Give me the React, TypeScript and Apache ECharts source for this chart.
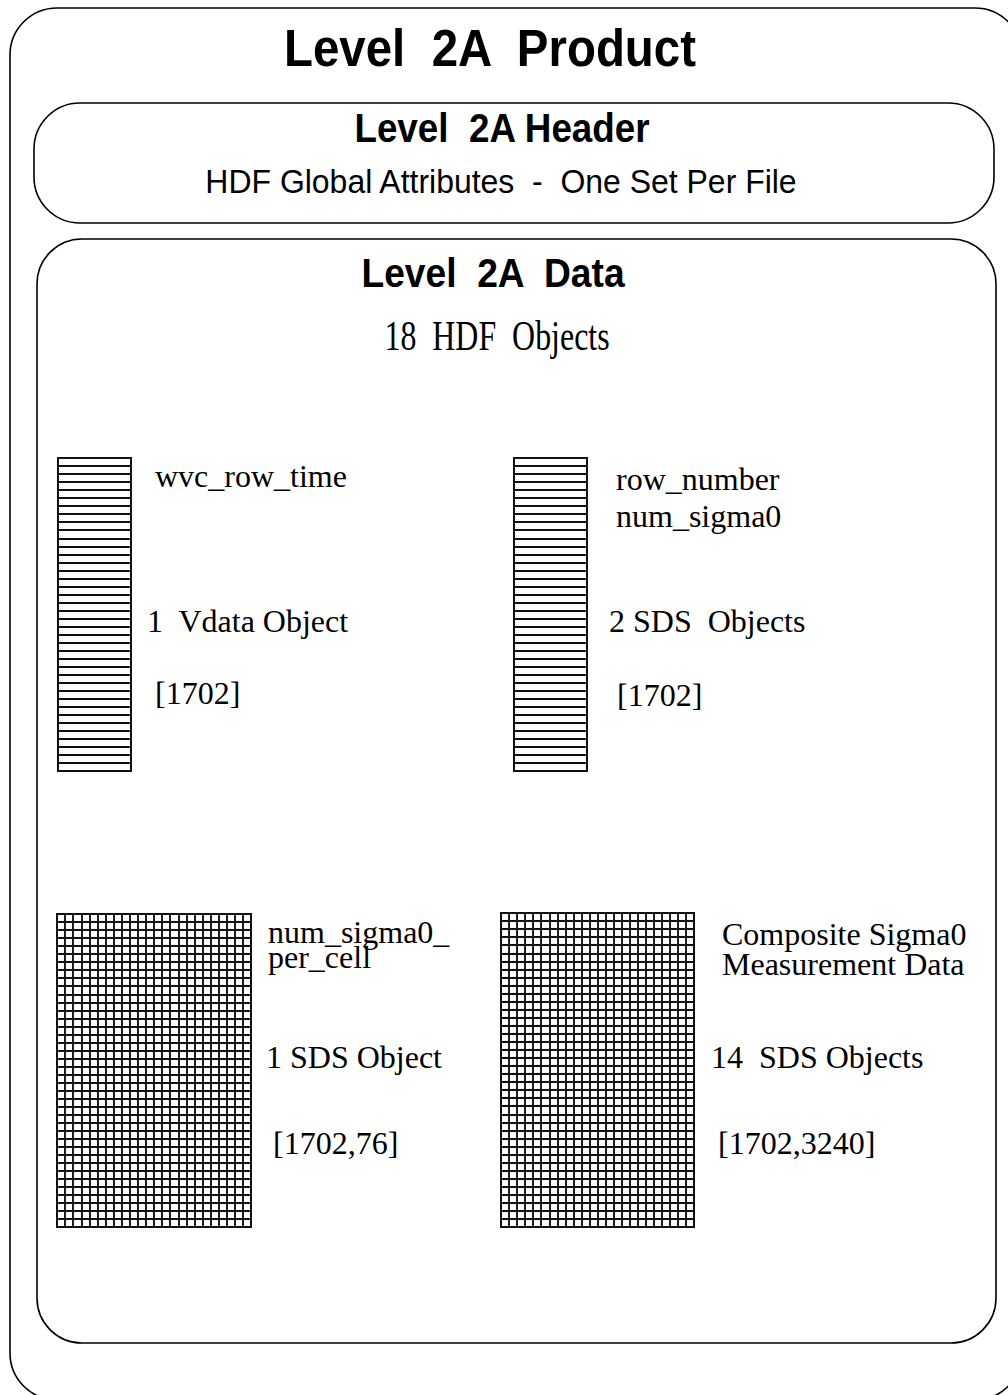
import React, { useEffect, useRef } from "react";
import * as echarts from "echarts";

// ---- content ----
const headings = ["Level  2A  Product", "Level  2A Header", "HDF Global Attributes  -  One Set Per File", "Level  2A  Data", "18  HDF  Objects"];
const blockNames = ["wvc_row_time", "row_number\nnum_sigma0", "num_sigma0_\nper_cell", "Composite Sigma0\nMeasurement Data"];
const blockCounts = ["1  Vdata Object", "2 SDS  Objects", "1 SDS Object", "14  SDS Objects"];
const blockDims = ["[1702]", "[1702]", "[1702,76]", "[1702,3240]"];
const blockRows = [39, 39, 39, 39];
const blockCols = [1, 1, 24, 24];

// ---- layout ----
const boxRects = [
  { left: 58, top: 458, width: 73, height: 313 },
  { left: 514, top: 458, width: 73, height: 313 },
  { left: 57, top: 914, width: 194, height: 313 },
  { left: 501, top: 913, width: 193, height: 314 },
];
const nameLayout = [
  { x: 155, y: 476, lh: 37 },
  { x: 616, y: 497, lh: 37 },
  { x: 268, y: 944, lh: 25 },
  { x: 722, y: 949, lh: 30 },
];
const countLayout = [
  { x: 147, y: 621 },
  { x: 609, y: 621 },
  { x: 266, y: 1057 },
  { x: 711, y: 1057 },
];
const dimLayout = [
  { x: 155, y: 693 },
  { x: 617, y: 695 },
  { x: 273, y: 1143 },
  { x: 718, y: 1143 },
];
const SANS = "'Liberation Sans', Arial, sans-serif";
const SERIF = "'Liberation Serif', 'Times New Roman', serif";
const headingLayout = [
  { x: 490, y: 48, size: 51, weight: "bold", family: SANS, sx: 0.93 },
  { x: 502, y: 128, size: 40, weight: "bold", family: SANS, sx: 0.92 },
  { x: 501, y: 181, size: 34, weight: "normal", family: SANS, sx: 0.94 },
  { x: 493, y: 273, size: 40, weight: "bold", family: SANS, sx: 0.93 },
  { x: 497, y: 336, size: 42, weight: "normal", family: SERIF, sx: 0.76 },
];

export default function App() {
  const ref = useRef<HTMLDivElement>(null);
  useEffect(() => {
    if (!ref.current) return;
    const chart = echarts.init(ref.current, undefined, { renderer: "svg" });

    const grids = boxRects.map((r) => ({
      left: r.left,
      top: r.top,
      width: r.width,
      height: r.height,
      show: true,
      borderColor: "#111",
      borderWidth: 2,
      backgroundColor: "transparent",
      containLabel: false,
    }));
    const lineStyle = { color: "#111", width: 1.9 };
    const xAxes = blockCols.map((c, i) => ({
      type: "value",
      gridIndex: i,
      min: 0,
      max: c,
      interval: 1,
      axisLine: { show: false },
      axisTick: { show: false },
      axisLabel: { show: false },
      splitLine: { show: c > 1, lineStyle },
    }));
    const yAxes = blockRows.map((r, i) => ({
      type: "value",
      gridIndex: i,
      min: 0,
      max: r,
      interval: 1,
      axisLine: { show: false },
      axisTick: { show: false },
      axisLabel: { show: false },
      splitLine: { show: true, lineStyle },
    }));
    const series = blockRows.map((_, i) => ({
      type: "scatter",
      xAxisIndex: i,
      yAxisIndex: i,
      data: [],
      silent: true,
    }));

    const graphic: any[] = [
      { type: "rect", shape: { x: 10, y: 8, width: 1012, height: 1392, r: 47 }, style: { fill: "none", stroke: "#000", lineWidth: 1.6 } },
      { type: "rect", shape: { x: 34, y: 103, width: 960, height: 120, r: 46 }, style: { fill: "none", stroke: "#000", lineWidth: 1.6 } },
      { type: "rect", shape: { x: 37, y: 239, width: 959, height: 1104, r: 45 }, style: { fill: "none", stroke: "#000", lineWidth: 1.6 } },
    ];
    headings.forEach((t, i) => {
      const L = headingLayout[i];
      graphic.push({
        type: "text",
        x: L.x,
        y: L.y,
        scaleX: L.sx,
        style: {
          text: t,
          fill: "#000",
          fontSize: L.size,
          fontWeight: L.weight,
          fontFamily: L.family,
          align: "center",
          verticalAlign: "middle",
          textAlign: "center",
          textVerticalAlign: "middle",
        },
      });
    });
    const addSerif = (text: string, x: number, y: number, lh?: number) => {
      graphic.push({
        type: "text",
        x,
        y,
        style: {
          text,
          fill: "#000",
          fontSize: 32,
          fontFamily: SERIF,
          lineHeight: lh,
          align: "left",
          verticalAlign: "middle",
          textAlign: "left",
          textVerticalAlign: "middle",
        },
      });
    };
    blockNames.forEach((t, i) => addSerif(t, nameLayout[i].x, nameLayout[i].y, nameLayout[i].lh));
    blockCounts.forEach((t, i) => addSerif(t, countLayout[i].x, countLayout[i].y));
    blockDims.forEach((t, i) => addSerif(t, dimLayout[i].x, dimLayout[i].y));

    chart.setOption({
      animation: false,
      backgroundColor: "#fff",
      grid: grids,
      xAxis: xAxes,
      yAxis: yAxes,
      series,
      graphic,
    } as any);
    return () => chart.dispose();
  }, []);
  return (
    <div
      ref={ref}
      style={{ position: "fixed", left: 0, top: 0, width: 1008, height: 1395, background: "#fff" }}
    />
  );
}
